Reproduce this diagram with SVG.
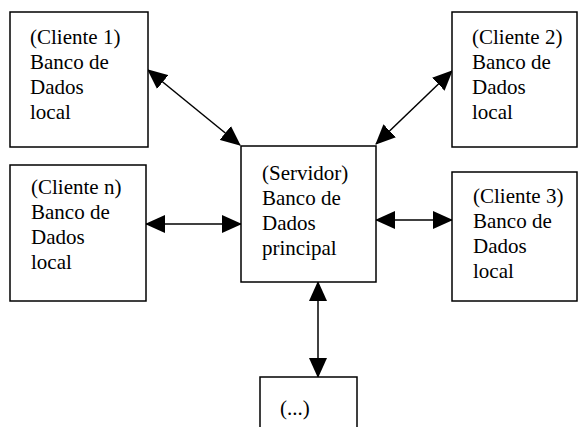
<svg xmlns="http://www.w3.org/2000/svg" width="579" height="427" viewBox="0 0 579 427">
<style>
.box{fill:#fff;stroke:#000;stroke-width:1.5}
.t{font-family:"Liberation Serif","Times New Roman",serif;font-size:21px;fill:#000}
.c{stroke:#000;stroke-width:1.5;fill:none}
</style>
<defs>
<marker id="ah" viewBox="0 0 20 18" refX="19" refY="9" markerWidth="20" markerHeight="18" markerUnits="userSpaceOnUse" orient="auto-start-reverse">
<path d="M0,0 L20,9 L0,18 Z" fill="#000"/>
</marker>
</defs>
<rect width="579" height="427" fill="#fff"/>
<g id="connectors">
<line class="c" x1="148" y1="70" x2="240" y2="145" marker-start="url(#ah)" marker-end="url(#ah)"/>
<line class="c" x1="452" y1="71" x2="376" y2="144" marker-start="url(#ah)" marker-end="url(#ah)"/>
<line class="c" x1="146" y1="224" x2="241" y2="224" marker-start="url(#ah)" marker-end="url(#ah)"/>
<line class="c" x1="376" y1="220" x2="452" y2="220" marker-start="url(#ah)" marker-end="url(#ah)"/>
<line class="c" x1="318" y1="282" x2="318" y2="377" marker-start="url(#ah)" marker-end="url(#ah)"/>
</g>
<g id="cliente1">
<rect class="box" x="10" y="12" width="138" height="135"/>
<text class="t" x="30" y="44">(Cliente 1)</text>
<text class="t" x="30" y="69">Banco de</text>
<text class="t" x="30" y="94">Dados</text>
<text class="t" x="30" y="119">local</text>
</g>
<g id="cliente2">
<rect class="box" x="452" y="12" width="125" height="135"/>
<text class="t" x="472" y="44">(Cliente 2)</text>
<text class="t" x="472" y="69">Banco de</text>
<text class="t" x="472" y="94">Dados</text>
<text class="t" x="472" y="119">local</text>
</g>
<g id="clienten">
<rect class="box" x="10" y="165" width="136" height="136"/>
<text class="t" x="31" y="194">(Cliente n)</text>
<text class="t" x="31" y="219">Banco de</text>
<text class="t" x="31" y="244">Dados</text>
<text class="t" x="31" y="269">local</text>
</g>
<g id="servidor">
<rect class="box" x="241" y="146" width="135" height="136"/>
<text class="t" x="262" y="180">(Servidor)</text>
<text class="t" x="262" y="205">Banco de</text>
<text class="t" x="262" y="230">Dados</text>
<text class="t" x="262" y="255">principal</text>
</g>
<g id="cliente3">
<rect class="box" x="452" y="172" width="125" height="129"/>
<text class="t" x="473" y="203">(Cliente 3)</text>
<text class="t" x="473" y="228">Banco de</text>
<text class="t" x="473" y="253">Dados</text>
<text class="t" x="473" y="278">local</text>
</g>
<g id="etc">
<rect class="box" x="260" y="377" width="97" height="60"/>
<text class="t" x="280" y="415">(...)</text>
</g>
</svg>
